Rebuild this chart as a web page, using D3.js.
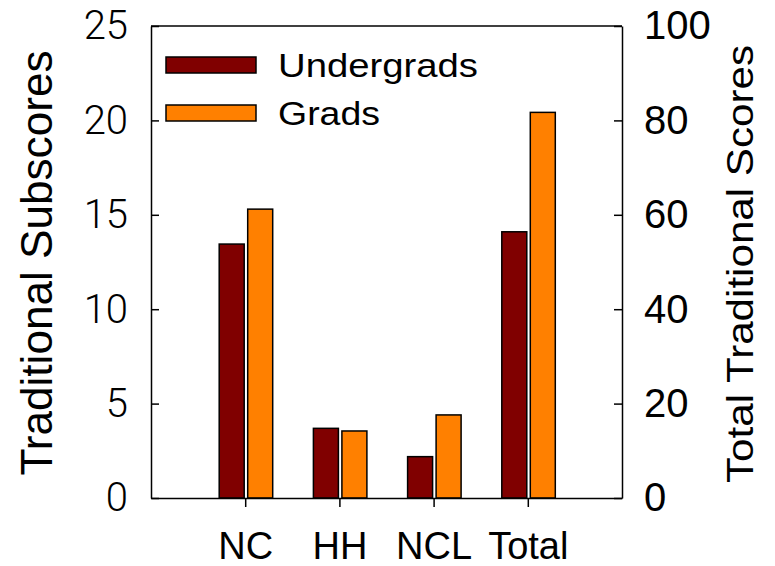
<!DOCTYPE html>
<html>
<head>
  <script src="https://cdn.jsdelivr.net/npm/d3@7"></script>
  <style>
    body { margin: 0; background: #fff; }
    svg { display: block; }
  </style>
</head>
<body>
  <script>
    // data
    const categories = ["NC", "HH", "NCL", "Total"];
    const undergrads = [13.45, 3.69, 2.19, 56.4];   // last value on right axis
    const grads = [15.3, 3.55, 4.4, 81.7];
    const leftTicks = [0, 5, 10, 15, 20, 25];
    const rightTicks = [0, 20, 40, 60, 80, 100];

    const w = 775, h = 566;
    const plotLeft = 151, plotRight = 622, plotTop = 26, plotBottom = 498;

    const svg = d3.select("body").append("svg")
      .attr("width", w).attr("height", h);

    const x = d3.scaleLinear().domain([0, 5]).range([plotLeft, plotRight]);
    const yL = d3.scaleLinear().domain([0, 25]).range([plotBottom, plotTop]);
    const yR = d3.scaleLinear().domain([0, 100]).range([plotBottom, plotTop]);

    // which scale each category uses
    function yFor(i) { return categories[i] === "Total" ? yR : yL; }

    const barW = 25;
    const series = [
      { name: "Undergrads", values: undergrads, color: "#800000", dx: -26 },
      { name: "Grads", values: grads, color: "#ff8000", dx: 2.5 }
    ];

    series.forEach(function (s) {
      svg.append("g").selectAll("rect")
        .data(s.values)
        .enter()
        .append("rect")
        .attr("x", function (d, i) { return x(i + 1) + s.dx; })
        .attr("y", function (d, i) { return yFor(i)(d); })
        .attr("width", barW)
        .attr("height", function (d, i) { return plotBottom - yFor(i)(d); })
        .attr("fill", s.color)
        .attr("stroke", "#000")
        .attr("stroke-width", 1.5);
    });

    // left axis
    const gl = svg.append("g")
      .attr("transform", "translate(" + plotLeft + ",0)")
      .call(d3.axisLeft(yL).tickValues(leftTicks).tickSizeInner(-8).tickSizeOuter(0).tickPadding(23));
    gl.selectAll("text")
      .attr("font-family", "Roboto, 'Liberation Sans', sans-serif")
      .attr("font-weight", 300)
      .attr("font-size", 40)
      .attr("fill", "#000");

    // right axis
    const gr = svg.append("g")
      .attr("transform", "translate(" + plotRight + ",0)")
      .call(d3.axisRight(yR).tickValues(rightTicks).tickSizeInner(-8).tickSizeOuter(0).tickPadding(22));
    gr.selectAll("text")
      .attr("font-family", "'Liberation Sans', Arial, sans-serif")
      .attr("font-size", 40)
      .attr("fill", "#000");

    // bottom axis
    const gb = svg.append("g")
      .attr("transform", "translate(0," + plotBottom + ")")
      .call(d3.axisBottom(x).tickValues([1, 2, 3, 4])
        .tickFormat(function (d) { return categories[d - 1]; })
        .tickSizeInner(9).tickSizeOuter(0).tickPadding(25));
    gb.selectAll("text")
      .attr("font-family", "'Liberation Sans', Arial, sans-serif")
      .attr("font-size", 38)
      .attr("fill", "#000");

    svg.selectAll(".domain, .tick line")
      .attr("stroke", "#000")
      .attr("stroke-width", 1.5);

    // top border
    svg.append("line")
      .attr("x1", plotLeft).attr("x2", plotRight)
      .attr("y1", plotTop).attr("y2", plotTop)
      .attr("stroke", "#000").attr("stroke-width", 1.5);

    // axis titles
    svg.append("text")
      .attr("transform", "translate(52,263) rotate(-90)")
      .attr("text-anchor", "middle")
      .attr("font-family", "'Liberation Sans', Arial, sans-serif")
      .attr("font-size", 44)
      .attr("textLength", 425)
      .attr("lengthAdjust", "spacingAndGlyphs")
      .text("Traditional Subscores");

    svg.append("text")
      .attr("transform", "translate(753,264) rotate(-90)")
      .attr("text-anchor", "middle")
      .attr("font-family", "'Liberation Sans', Arial, sans-serif")
      .attr("font-size", 37)
      .attr("textLength", 438)
      .attr("lengthAdjust", "spacingAndGlyphs")
      .text("Total Traditional Scores");

    // legend
    const legend = svg.append("g");
    series.forEach(function (s, i) {
      legend.append("rect")
        .attr("x", 166).attr("y", 57 + i * 48)
        .attr("width", 90).attr("height", 16)
        .attr("fill", s.color)
        .attr("stroke", "#000").attr("stroke-width", 1.5);
      legend.append("text")
        .attr("x", 278).attr("y", 77 + i * 48)
        .attr("font-family", "'Liberation Sans', Arial, sans-serif")
        .attr("font-size", 33)
        .attr("textLength", i === 0 ? 200 : 102)
        .attr("lengthAdjust", "spacingAndGlyphs")
        .text(s.name);
    });
  </script>
</body>
</html>
